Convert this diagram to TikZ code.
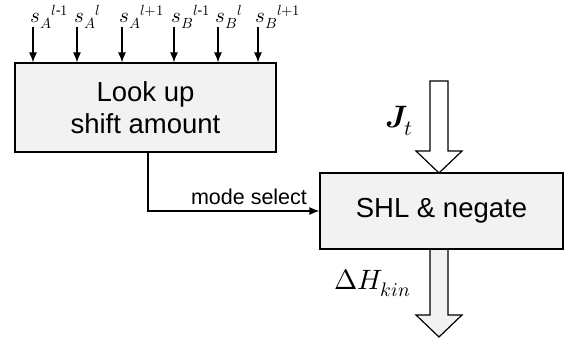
\documentclass[tikz,border=0pt]{standalone}
\usepackage{amsmath}
\usepackage{fontspec}
\usepackage{unicode-math}
\setmainfont{Liberation Sans}
\setmathfont{Latin Modern Math}
\usetikzlibrary{arrows.meta,calc}
\begin{document}
\begin{tikzpicture}[x=1pt,y=-1pt,
  box/.style={draw, line width=1.2pt, fill=gray!10, inner sep=0pt,
    align=center, font=\fontsize{27.5}{32}\selectfont},
  inarrow/.style={-{Latex[length=10pt,width=8pt]}, line width=1.2pt},
  lbl/.style={inner sep=0pt, anchor=base west, font=\fontsize{21}{22}\selectfont},
  blockarrow/.style={draw, line width=1.2pt, line join=miter}]
\useasboundingbox (0,0) rectangle (566,344);
\node[box, minimum width=261pt, minimum height=89pt] (b1) at (145.5,107.5) {Look up\\shift amount};
\node[box, minimum width=243pt, minimum height=76pt] (b2) at (441.5,211) {SHL \& negate};
\foreach \x/\n/\t in {33/a/{s_A{}^{l\text{-}1}},77/b/{s_A{}^{l}},122/c/{s_A{}^{l+1}},174/d/{s_B{}^{l\text{-}1}},218/e/{s_B{}^{l}},258/f/{s_B{}^{l+1}}}{
  \node[lbl] (l\n) at (\x-3,23) {$\t$};
  \coordinate (s\n) at (\x,27);
  \draw[inarrow] (s\n) -- (s\n |- b1.north);
}
\coordinate (mstart) at (148,152);
\draw[inarrow] (mstart) |- (b2.west);
\node[inner sep=0pt, anchor=base, font=\fontsize{21.5}{24}\selectfont] (msl) at (249,205) {mode select};
\coordinate (jt) at (439,173);
\begin{scope}[shift={(jt)}]
\draw[blockarrow, fill=white] (-9,-92) -- (9,-92) -- (9,-22) -- (23,-22) -- (0,0) -- (-23,-22) -- (-9,-22) -- cycle;
\end{scope}
\node[inner sep=0pt, anchor=base west, font=\fontsize{31}{32}\selectfont] (jl) at (385,128) {$\symbfit{J}_t$};
\coordinate (ht) at (439,337);
\begin{scope}[shift={(ht)}]
\draw[blockarrow, fill=gray!10] (-9,-88) -- (9,-88) -- (9,-22) -- (23,-22) -- (0,0) -- (-23,-22) -- (-9,-22) -- cycle;
\end{scope}
\draw[line width=1.2pt] (b2.south west) -- (b2.south east);
\node[inner sep=0pt, anchor=base west, font=\fontsize{28}{30}\selectfont] (hl) at (334,290) {$\Delta H_{kin}$};
\end{tikzpicture}
\end{document}
